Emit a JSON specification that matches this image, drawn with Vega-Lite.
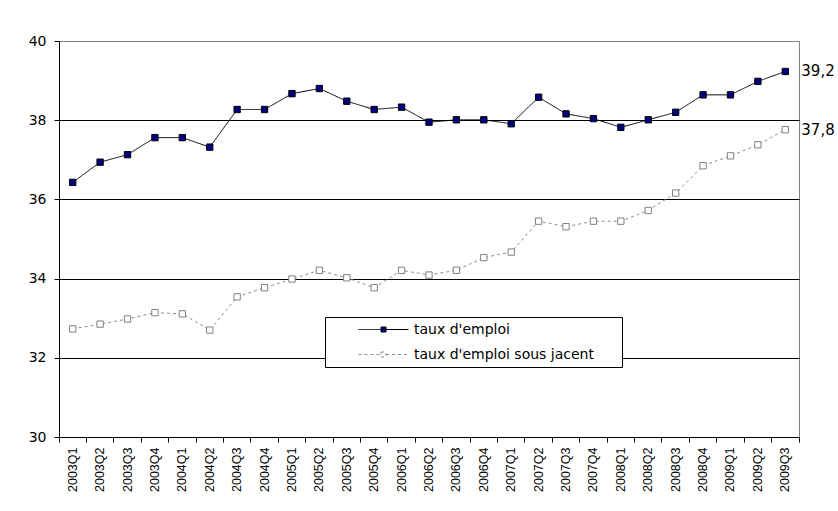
{
  "$schema": "https://vega.github.io/schema/vega-lite/v6.json",
  "autosize": "none",
  "padding": {"left": 59, "top": 41, "right": 39, "bottom": 74},
  "width": 740,
  "height": 396,
  "background": "white",
  "config": {
    "locale": {"number": {"decimal": ",", "thousands": " ", "grouping": [3], "currency": ["", " €"]}},
    "view": {"stroke": "#808080", "strokeWidth": 1},
    "font": "DejaVu Sans"
  },
  "data": {"values": [
    {"quarter": "2003Q1", "series": "taux d'emploi", "value": 36.43},
    {"quarter": "2003Q2", "series": "taux d'emploi", "value": 36.94},
    {"quarter": "2003Q3", "series": "taux d'emploi", "value": 37.13},
    {"quarter": "2003Q4", "series": "taux d'emploi", "value": 37.56},
    {"quarter": "2004Q1", "series": "taux d'emploi", "value": 37.56},
    {"quarter": "2004Q2", "series": "taux d'emploi", "value": 37.32},
    {"quarter": "2004Q3", "series": "taux d'emploi", "value": 38.27},
    {"quarter": "2004Q4", "series": "taux d'emploi", "value": 38.27},
    {"quarter": "2005Q1", "series": "taux d'emploi", "value": 38.67},
    {"quarter": "2005Q2", "series": "taux d'emploi", "value": 38.80},
    {"quarter": "2005Q3", "series": "taux d'emploi", "value": 38.48},
    {"quarter": "2005Q4", "series": "taux d'emploi", "value": 38.27},
    {"quarter": "2006Q1", "series": "taux d'emploi", "value": 38.33},
    {"quarter": "2006Q2", "series": "taux d'emploi", "value": 37.95},
    {"quarter": "2006Q3", "series": "taux d'emploi", "value": 38.01},
    {"quarter": "2006Q4", "series": "taux d'emploi", "value": 38.01},
    {"quarter": "2007Q1", "series": "taux d'emploi", "value": 37.91},
    {"quarter": "2007Q2", "series": "taux d'emploi", "value": 38.58},
    {"quarter": "2007Q3", "series": "taux d'emploi", "value": 38.16},
    {"quarter": "2007Q4", "series": "taux d'emploi", "value": 38.04},
    {"quarter": "2008Q1", "series": "taux d'emploi", "value": 37.82},
    {"quarter": "2008Q2", "series": "taux d'emploi", "value": 38.01},
    {"quarter": "2008Q3", "series": "taux d'emploi", "value": 38.20},
    {"quarter": "2008Q4", "series": "taux d'emploi", "value": 38.64},
    {"quarter": "2009Q1", "series": "taux d'emploi", "value": 38.64},
    {"quarter": "2009Q2", "series": "taux d'emploi", "value": 38.98},
    {"quarter": "2009Q3", "series": "taux d'emploi", "value": 39.23},
    {"quarter": "2003Q1", "series": "taux d'emploi sous jacent", "value": 32.73},
    {"quarter": "2003Q2", "series": "taux d'emploi sous jacent", "value": 32.85},
    {"quarter": "2003Q3", "series": "taux d'emploi sous jacent", "value": 32.98},
    {"quarter": "2003Q4", "series": "taux d'emploi sous jacent", "value": 33.14},
    {"quarter": "2004Q1", "series": "taux d'emploi sous jacent", "value": 33.11},
    {"quarter": "2004Q2", "series": "taux d'emploi sous jacent", "value": 32.70},
    {"quarter": "2004Q3", "series": "taux d'emploi sous jacent", "value": 33.54},
    {"quarter": "2004Q4", "series": "taux d'emploi sous jacent", "value": 33.77},
    {"quarter": "2005Q1", "series": "taux d'emploi sous jacent", "value": 33.99},
    {"quarter": "2005Q2", "series": "taux d'emploi sous jacent", "value": 34.21},
    {"quarter": "2005Q3", "series": "taux d'emploi sous jacent", "value": 34.02},
    {"quarter": "2005Q4", "series": "taux d'emploi sous jacent", "value": 33.77},
    {"quarter": "2006Q1", "series": "taux d'emploi sous jacent", "value": 34.21},
    {"quarter": "2006Q2", "series": "taux d'emploi sous jacent", "value": 34.09},
    {"quarter": "2006Q3", "series": "taux d'emploi sous jacent", "value": 34.21},
    {"quarter": "2006Q4", "series": "taux d'emploi sous jacent", "value": 34.53},
    {"quarter": "2007Q1", "series": "taux d'emploi sous jacent", "value": 34.67},
    {"quarter": "2007Q2", "series": "taux d'emploi sous jacent", "value": 35.45},
    {"quarter": "2007Q3", "series": "taux d'emploi sous jacent", "value": 35.31},
    {"quarter": "2007Q4", "series": "taux d'emploi sous jacent", "value": 35.45},
    {"quarter": "2008Q1", "series": "taux d'emploi sous jacent", "value": 35.45},
    {"quarter": "2008Q2", "series": "taux d'emploi sous jacent", "value": 35.72},
    {"quarter": "2008Q3", "series": "taux d'emploi sous jacent", "value": 36.16},
    {"quarter": "2008Q4", "series": "taux d'emploi sous jacent", "value": 36.85},
    {"quarter": "2009Q1", "series": "taux d'emploi sous jacent", "value": 37.10},
    {"quarter": "2009Q2", "series": "taux d'emploi sous jacent", "value": 37.38},
    {"quarter": "2009Q3", "series": "taux d'emploi sous jacent", "value": 37.76}
  ]},
  "encoding": {
    "x": {
      "field": "quarter", "type": "ordinal", "sort": null, "bandPosition": 0.5,
      "scale": {"type": "band", "paddingInner": 0, "paddingOuter": 0},
      "axis": {
        "title": null, "bandPosition": 1, "tickExtra": true,
        "labelAngle": 270, "labelOffset": 0, "labelPadding": 5,
        "labelFont": "Liberation Sans", "labelFontSize": 12.5, "labelColor": "black",
        "tickSize": 5, "tickColor": "black", "domainColor": "black", "grid": false
      }
    },
    "y": {
      "field": "value", "type": "quantitative",
      "scale": {"domain": [30, 40], "nice": false, "zero": false},
      "axis": {
        "title": null, "values": [30, 32, 34, 36, 38, 40],
        "labelFont": "DejaVu Sans", "labelFontSize": 14, "labelColor": "black", "labelPadding": 8,
        "tickSize": 5, "tickColor": "black", "domainColor": "black",
        "grid": true,
        "gridColor": {"condition": {"test": "datum.value === 40", "value": "#808080"}, "value": "black"},
        "gridOpacity": 1
      }
    }
  },
  "layer": [
    {
      "mark": {"type": "line", "strokeWidth": 1},
      "encoding": {
        "stroke": {
          "field": "series", "type": "nominal",
          "scale": {"domain": ["taux d'emploi", "taux d'emploi sous jacent"], "range": ["black", "#8c8c8c"]},
          "legend": {
            "title": "\u00a0", "titleOrient": "right", "titlePadding": 23, "titleFontSize": 14, "titleOpacity": 0,
            "orient": "none", "legendX": 266, "legendY": 276, "direction": "vertical",
            "strokeColor": "black", "fillColor": "white", "padding": 5,
            "symbolType": "M-1,0H-0.1M0.1,0H1M-0.1,-0.1H0.1V0.1H-0.1Z",
            "symbolSize": 2500, "symbolStrokeWidth": 1, "symbolOffset": 28,
            "clipHeight": 15, "rowPadding": 10,
            "labelFont": "DejaVu Sans", "labelFontSize": 14, "labelColor": "black",
            "labelOffset": 5, "labelLimit": 500,
            "encode": {"symbols": {"update": {"fill": {"signal": "datum.value === \"taux d'emploi\" ? '#000080' : '#ffffff'"}}}}
          }
        },
        "strokeDash": {
          "field": "series", "type": "nominal",
          "scale": {"domain": ["taux d'emploi", "taux d'emploi sous jacent"], "range": [[1, 0], [3, 3]]}
        }
      }
    },
    {
      "mark": {"type": "point", "shape": "square", "filled": true, "size": 40, "strokeWidth": 1, "opacity": 1},
      "encoding": {
        "fill": {"condition": {"test": "datum.series === \"taux d'emploi\"", "value": "#000080"}, "value": "#ffffff"},
        "stroke": {"condition": {"test": "datum.series === \"taux d'emploi\"", "value": "black"}, "value": "#808080"}
      }
    },
    {
      "transform": [{"filter": "datum.quarter === '2009Q3'"}],
      "mark": {"type": "text", "align": "left", "baseline": "middle", "dx": 16, "font": "DejaVu Sans", "fontSize": 15, "color": "black"},
      "encoding": {
        "text": {"field": "value", "type": "quantitative", "format": ".1f"}
      }
    }
  ]
}
